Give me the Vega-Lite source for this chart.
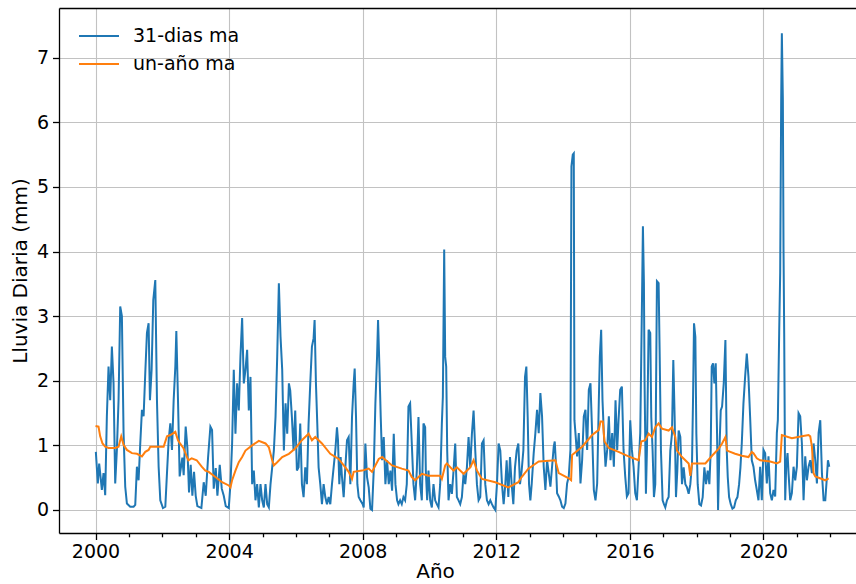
{
"$schema": "https://vega.github.io/schema/vega-lite/v6.json",
"width": 797, "height": 525,
"autosize": {"type": "none"},
"padding": {"left": 59, "top": 8, "right": 0, "bottom": 51},
"background": "white",
"config": {
  "font": "DejaVu Sans",
  "view": {"stroke": null},
  "axis": {"domainColor": "#000", "domainWidth": 1.3, "tickColor": "#000", "tickWidth": 1.3, "labelColor": "#000", "titleColor": "#000", "labelFontSize": 19, "titleFontSize": 20, "titleFontWeight": "normal", "gridColor": "#c2c2c2", "gridWidth": 1.1, "labelFont": "DejaVu Sans", "titleFont": "DejaVu Sans"},
  "legend": {"labelFont": "DejaVu Sans"}
},
"datasets": {
"ma31": [
{"t":2000.01,"v":0.90},{"t":2000.07,"v":0.41},{"t":2000.11,"v":0.72},{"t":2000.14,"v":0.57},{"t":2000.19,"v":0.31},{"t":2000.24,"v":0.57},{"t":2000.29,"v":0.23},{"t":2000.34,"v":1.45},{"t":2000.39,"v":2.22},{"t":2000.44,"v":1.70},{"t":2000.49,"v":2.53},{"t":2000.54,"v":1.96},{"t":2000.59,"v":0.41},{"t":2000.64,"v":0.93},{"t":2000.69,"v":1.70},{"t":2000.74,"v":3.15},{"t":2000.79,"v":3.00},{"t":2000.84,"v":1.19},{"t":2000.89,"v":0.36},{"t":2000.94,"v":0.10},{"t":2001.04,"v":0.05},{"t":2001.14,"v":0.05},{"t":2001.19,"v":0.08},{"t":2001.24,"v":0.67},{"t":2001.29,"v":0.46},{"t":2001.34,"v":1.03},{"t":2001.39,"v":1.55},{"t":2001.44,"v":1.45},{"t":2001.49,"v":2.12},{"t":2001.54,"v":2.74},{"t":2001.59,"v":2.89},{"t":2001.63,"v":1.70},{"t":2001.68,"v":2.17},{"t":2001.73,"v":3.25},{"t":2001.79,"v":3.56},{"t":2001.84,"v":1.70},{"t":2001.89,"v":0.67},{"t":2001.94,"v":0.15},{"t":2002.02,"v":0.03},{"t":2002.09,"v":0.05},{"t":2002.14,"v":0.57},{"t":2002.19,"v":1.08},{"t":2002.24,"v":1.34},{"t":2002.29,"v":0.93},{"t":2002.34,"v":1.70},{"t":2002.39,"v":2.22},{"t":2002.42,"v":2.77},{"t":2002.47,"v":1.70},{"t":2002.52,"v":0.52},{"t":2002.60,"v":0.81},{"t":2002.64,"v":0.54},{"t":2002.70,"v":1.29},{"t":2002.75,"v":0.97},{"t":2002.80,"v":0.27},{"t":2002.85,"v":0.70},{"t":2002.90,"v":0.22},{"t":2002.95,"v":0.59},{"t":2003.00,"v":0.22},{"t":2003.05,"v":0.06},{"t":2003.17,"v":0.03},{"t":2003.24,"v":0.43},{"t":2003.30,"v":0.22},{"t":2003.37,"v":0.81},{"t":2003.44,"v":1.29},{"t":2003.49,"v":1.24},{"t":2003.54,"v":0.33},{"t":2003.60,"v":0.65},{"t":2003.65,"v":0.22},{"t":2003.72,"v":0.70},{"t":2003.78,"v":0.33},{"t":2003.84,"v":0.22},{"t":2003.90,"v":0.06},{"t":2003.99,"v":0.03},
{"t":2004.04,"v":0.40},{"t":2004.09,"v":1.03},{"t":2004.14,"v":2.17},{"t":2004.19,"v":1.18},{"t":2004.24,"v":1.96},{"t":2004.29,"v":1.54},{"t":2004.34,"v":2.38},{"t":2004.39,"v":2.97},{"t":2004.44,"v":1.96},{"t":2004.49,"v":2.17},{"t":2004.54,"v":2.48},{"t":2004.59,"v":1.54},{"t":2004.64,"v":2.06},{"t":2004.69,"v":0.40},{"t":2004.74,"v":0.61},{"t":2004.79,"v":0.15},{"t":2004.84,"v":0.40},{"t":2004.89,"v":0.04},{"t":2004.94,"v":0.40},{"t":2004.99,"v":0.15},{"t":2005.04,"v":0.04},{"t":2005.09,"v":0.40},{"t":2005.14,"v":0.09},{"t":2005.19,"v":0.04},{"t":2005.24,"v":0.40},{"t":2005.29,"v":0.66},{"t":2005.34,"v":0.92},{"t":2005.39,"v":1.44},{"t":2005.44,"v":2.37},{"t":2005.49,"v":3.51},{"t":2005.54,"v":2.68},{"t":2005.59,"v":2.17},{"t":2005.64,"v":0.92},{"t":2005.69,"v":1.65},{"t":2005.74,"v":1.18},{"t":2005.79,"v":1.96},{"t":2005.83,"v":1.85},{"t":2005.88,"v":1.44},{"t":2005.93,"v":0.92},{"t":2005.98,"v":1.54},{"t":2006.03,"v":0.61},{"t":2006.08,"v":0.66},{"t":2006.13,"v":1.34},{"t":2006.18,"v":0.40},{"t":2006.23,"v":0.20},{"t":2006.28,"v":0.66},{"t":2006.33,"v":0.40},{"t":2006.38,"v":1.34},{"t":2006.43,"v":1.96},{"t":2006.48,"v":2.53},{"t":2006.53,"v":2.66},{"t":2006.56,"v":2.94},{"t":2006.60,"v":1.96},{"t":2006.64,"v":1.34},{"t":2006.68,"v":0.66},{"t":2006.73,"v":0.40},{"t":2006.78,"v":0.09},{"t":2006.83,"v":0.40},{"t":2006.88,"v":0.20},{"t":2006.93,"v":0.09},{"t":2006.98,"v":0.20},{"t":2007.03,"v":0.09},{"t":2007.08,"v":0.40},{"t":2007.13,"v":0.66},{"t":2007.18,"v":0.92},{"t":2007.23,"v":1.28},{"t":2007.26,"v":1.08},{"t":2007.30,"v":0.40},{"t":2007.34,"v":0.82},{"t":2007.38,"v":0.51},{"t":2007.43,"v":0.20},{"t":2007.48,"v":0.66},{"t":2007.53,"v":1.08},{"t":2007.58,"v":1.13},{"t":2007.63,"v":0.40},{"t":2007.68,"v":1.44},{"t":2007.73,"v":1.96},{"t":2007.76,"v":2.19},{"t":2007.80,"v":1.44},{"t":2007.84,"v":0.40},{"t":2007.88,"v":0.20},{"t":2007.93,"v":0.15},{"t":2008.00,"v":0.09},{"t":2008.03,"v":0.04},{"t":2008.08,"v":1.03},{"t":2008.13,"v":0.51},{"t":2008.18,"v":0.35},{"t":2008.23,"v":0.02},{"t":2008.28,"v":0.00},{"t":2008.33,"v":0.61},{"t":2008.38,"v":1.65},{"t":2008.43,"v":2.37},{"t":2008.46,"v":2.94},{"t":2008.50,"v":2.22},{"t":2008.54,"v":1.44},{"t":2008.58,"v":0.77},{"t":2008.63,"v":1.13},{"t":2008.68,"v":0.40},{"t":2008.73,"v":0.77},{"t":2008.78,"v":0.40},{"t":2008.83,"v":0.61},{"t":2008.88,"v":0.30},{"t":2008.93,"v":1.18},{"t":2008.98,"v":0.40},{"t":2009.03,"v":0.15},{"t":2009.07,"v":0.09},{"t":2009.12,"v":0.15},{"t":2009.17,"v":0.09},{"t":2009.22,"v":0.20},{"t":2009.27,"v":0.15},{"t":2009.32,"v":0.40},{"t":2009.37,"v":1.60},{"t":2009.42,"v":1.65},{"t":2009.47,"v":1.03},{"t":2009.52,"v":0.40},{"t":2009.57,"v":0.15},{"t":2009.62,"v":0.61},{"t":2009.67,"v":1.44},{"t":2009.72,"v":0.40},{"t":2009.77,"v":0.15},{"t":2009.82,"v":1.34},{"t":2009.87,"v":1.28},{"t":2009.89,"v":0.61},{"t":2009.93,"v":0.15},{"t":2009.97,"v":0.61},
{"t":2010.02,"v":0.15},{"t":2010.07,"v":0.04},{"t":2010.12,"v":0.40},{"t":2010.17,"v":0.15},{"t":2010.22,"v":0.09},{"t":2010.27,"v":0.04},{"t":2010.32,"v":0.40},{"t":2010.37,"v":1.34},{"t":2010.40,"v":1.75},{"t":2010.44,"v":4.03},{"t":2010.47,"v":2.37},{"t":2010.50,"v":2.22},{"t":2010.53,"v":0.92},{"t":2010.57,"v":0.15},{"t":2010.62,"v":0.40},{"t":2010.67,"v":0.25},{"t":2010.72,"v":0.61},{"t":2010.77,"v":1.03},{"t":2010.82,"v":0.20},{"t":2010.87,"v":0.15},{"t":2010.92,"v":0.09},{"t":2010.97,"v":0.20},{"t":2011.02,"v":0.56},{"t":2011.07,"v":0.40},{"t":2011.12,"v":0.66},{"t":2011.17,"v":1.13},{"t":2011.22,"v":0.66},{"t":2011.27,"v":1.18},{"t":2011.32,"v":1.54},{"t":2011.37,"v":0.92},{"t":2011.42,"v":0.40},{"t":2011.47,"v":0.15},{"t":2011.52,"v":0.20},{"t":2011.57,"v":1.03},{"t":2011.62,"v":1.08},{"t":2011.67,"v":0.40},{"t":2011.72,"v":0.15},{"t":2011.77,"v":0.09},{"t":2011.82,"v":0.15},{"t":2011.87,"v":0.09},{"t":2011.92,"v":0.04},{"t":2011.97,"v":0.00},{"t":2012.02,"v":0.40},{"t":2012.07,"v":1.03},{"t":2012.12,"v":0.92},{"t":2012.17,"v":0.40},{"t":2012.22,"v":0.09},{"t":2012.27,"v":0.40},{"t":2012.31,"v":0.77},{"t":2012.36,"v":0.20},{"t":2012.41,"v":0.82},{"t":2012.46,"v":0.40},{"t":2012.51,"v":0.09},{"t":2012.56,"v":0.66},{"t":2012.61,"v":0.92},{"t":2012.66,"v":1.03},{"t":2012.71,"v":0.40},{"t":2012.76,"v":0.61},{"t":2012.81,"v":0.92},{"t":2012.86,"v":2.06},{"t":2012.90,"v":2.22},{"t":2012.94,"v":1.44},{"t":2012.98,"v":0.40},{"t":2013.02,"v":0.15},{"t":2013.06,"v":0.40},{"t":2013.12,"v":0.88},{"t":2013.17,"v":1.19},{"t":2013.22,"v":1.55},{"t":2013.27,"v":1.19},{"t":2013.32,"v":1.81},{"t":2013.37,"v":1.45},{"t":2013.42,"v":0.67},{"t":2013.47,"v":0.31},{"t":2013.52,"v":0.77},{"t":2013.57,"v":0.57},{"t":2013.62,"v":0.36},{"t":2013.67,"v":0.67},{"t":2013.72,"v":0.98},{"t":2013.75,"v":1.06},{"t":2013.79,"v":0.67},{"t":2013.82,"v":0.26},{"t":2013.87,"v":0.21},{"t":2013.92,"v":0.15},{"t":2013.97,"v":0.05},{"t":2014.02,"v":0.03},{"t":2014.07,"v":0.10},{"t":2014.12,"v":0.41},{"t":2014.17,"v":0.52},{"t":2014.22,"v":0.93},{"t":2014.25,"v":5.32},{"t":2014.29,"v":5.50},{"t":2014.32,"v":5.52},{"t":2014.34,"v":1.39},{"t":2014.37,"v":1.19},{"t":2014.42,"v":0.83},{"t":2014.47,"v":1.19},{"t":2014.52,"v":0.41},{"t":2014.57,"v":0.77},{"t":2014.62,"v":1.45},{"t":2014.67,"v":1.55},{"t":2014.72,"v":0.93},{"t":2014.77,"v":1.86},{"t":2014.82,"v":1.96},{"t":2014.87,"v":1.19},{"t":2014.92,"v":0.31},{"t":2014.97,"v":0.15},{"t":2015.02,"v":0.41},{"t":2015.07,"v":1.70},{"t":2015.10,"v":2.37},{"t":2015.14,"v":2.79},{"t":2015.18,"v":1.70},{"t":2015.22,"v":1.19},{"t":2015.27,"v":0.67},{"t":2015.32,"v":0.93},{"t":2015.37,"v":1.45},{"t":2015.42,"v":0.77},{"t":2015.47,"v":1.19},{"t":2015.52,"v":0.67},{"t":2015.57,"v":1.70},{"t":2015.62,"v":0.93},{"t":2015.66,"v":1.39},{"t":2015.71,"v":1.86},{"t":2015.76,"v":1.91},{"t":2015.81,"v":0.93},{"t":2015.86,"v":0.52},{"t":2015.91,"v":0.21},{"t":2015.96,"v":0.26},{"t":2016.01,"v":1.39},{"t":2016.06,"v":0.93},{"t":2016.11,"v":0.67},{"t":2016.16,"v":0.26},{"t":2016.21,"v":0.15},{"t":2016.26,"v":0.67},{"t":2016.31,"v":1.19},{"t":2016.36,"v":3.15},{"t":2016.39,"v":4.39},{"t":2016.42,"v":3.51},{"t":2016.44,"v":1.96},{"t":2016.48,"v":0.25},{"t":2016.51,"v":0.92},{"t":2016.56,"v":2.79},{"t":2016.61,"v":2.74},{"t":2016.64,"v":1.44},{"t":2016.68,"v":0.92},{"t":2016.72,"v":0.20},{"t":2016.76,"v":0.40},{"t":2016.81,"v":3.54},{"t":2016.86,"v":3.51},{"t":2016.89,"v":2.48},{"t":2016.93,"v":0.92},{"t":2016.98,"v":0.15},{"t":2017.02,"v":0.09},{"t":2017.06,"v":0.04},{"t":2017.11,"v":0.15},{"t":2017.16,"v":0.20},{"t":2017.21,"v":0.92},{"t":2017.26,"v":1.18},{"t":2017.30,"v":2.32},{"t":2017.34,"v":1.44},{"t":2017.38,"v":0.20},{"t":2017.42,"v":0.61},{"t":2017.46,"v":1.23},{"t":2017.51,"v":1.13},{"t":2017.56,"v":0.40},{"t":2017.61,"v":0.66},{"t":2017.66,"v":0.40},{"t":2017.71,"v":0.35},{"t":2017.76,"v":0.25},{"t":2017.81,"v":0.40},{"t":2017.86,"v":0.72},{"t":2017.89,"v":1.70},{"t":2017.92,"v":2.89},{"t":2017.96,"v":2.68},{"t":2017.99,"v":1.18},{"t":2018.03,"v":0.40},{"t":2018.08,"v":0.09},{"t":2018.13,"v":0.07},{"t":2018.18,"v":0.20},{"t":2018.23,"v":0.66},{"t":2018.28,"v":0.40},{"t":2018.33,"v":0.61},{"t":2018.38,"v":0.40},{"t":2018.42,"v":0.92},{"t":2018.45,"v":2.22},{"t":2018.49,"v":2.27},{"t":2018.53,"v":1.96},{"t":2018.57,"v":2.27},{"t":2018.61,"v":1.18},{"t":2018.64,"v":0.00},{"t":2018.68,"v":0.92},{"t":2018.72,"v":1.54},{"t":2018.76,"v":1.60},{"t":2018.81,"v":1.96},{"t":2018.86,"v":2.63},{"t":2018.90,"v":0.92},{"t":2018.93,"v":0.51},{"t":2018.97,"v":0.20},{"t":2019.02,"v":0.09},{"t":2019.07,"v":0.02},{"t":2019.12,"v":0.04},{"t":2019.17,"v":0.15},{"t":2019.22,"v":0.20},{"t":2019.27,"v":0.40},{"t":2019.31,"v":0.66},{"t":2019.35,"v":1.03},{"t":2019.40,"v":1.65},{"t":2019.45,"v":2.06},{"t":2019.50,"v":2.42},{"t":2019.55,"v":2.06},{"t":2019.60,"v":1.44},{"t":2019.65,"v":0.77},{"t":2019.70,"v":0.67},{"t":2019.75,"v":0.46},{"t":2019.80,"v":0.31},{"t":2019.85,"v":0.15},{"t":2019.90,"v":0.67},{"t":2019.95,"v":0.15},{"t":2020.00,"v":0.93},{"t":2020.05,"v":0.88},{"t":2020.10,"v":0.41},{"t":2020.15,"v":0.83},{"t":2020.20,"v":0.26},{"t":2020.25,"v":0.15},{"t":2020.30,"v":0.31},{"t":2020.35,"v":0.21},{"t":2020.40,"v":1.19},{"t":2020.43,"v":1.39},{"t":2020.47,"v":2.74},{"t":2020.50,"v":3.67},{"t":2020.53,"v":6.35},{"t":2020.55,"v":7.38},{"t":2020.58,"v":6.35},{"t":2020.60,"v":4.03},{"t":2020.62,"v":2.74},{"t":2020.65,"v":0.15},{"t":2020.68,"v":0.67},{"t":2020.72,"v":0.88},{"t":2020.75,"v":0.57},{"t":2020.80,"v":0.15},{"t":2020.85,"v":0.26},{"t":2020.90,"v":0.67},{"t":2020.95,"v":0.46},{"t":2021.00,"v":0.67},{"t":2021.05,"v":1.50},{"t":2021.10,"v":1.45},{"t":2021.15,"v":1.03},{"t":2021.20,"v":0.15},{"t":2021.25,"v":0.83},{"t":2021.30,"v":0.46},{"t":2021.35,"v":0.67},{"t":2021.40,"v":0.77},{"t":2021.45,"v":0.57},{"t":2021.50,"v":1.03},{"t":2021.55,"v":0.77},{"t":2021.60,"v":0.41},{"t":2021.65,"v":1.19},{"t":2021.70,"v":1.39},{"t":2021.75,"v":0.57},{"t":2021.80,"v":0.15},{"t":2021.85,"v":0.15},{"t":2021.90,"v":0.52},{"t":2021.93,"v":0.77},{"t":2021.97,"v":0.67}
],
"ma365": [
{"t":2000.00,"v":1.30},{"t":2000.09,"v":1.29},{"t":2000.14,"v":1.14},{"t":2000.21,"v":1.03},{"t":2000.29,"v":0.98},{"t":2000.39,"v":0.96},{"t":2000.49,"v":0.96},{"t":2000.59,"v":0.96},{"t":2000.69,"v":0.98},{"t":2000.77,"v":1.14},{"t":2000.84,"v":1.01},{"t":2000.94,"v":0.93},{"t":2001.09,"v":0.88},{"t":2001.24,"v":0.87},{"t":2001.39,"v":0.83},{"t":2001.49,"v":0.90},{"t":2001.59,"v":0.93},{"t":2001.64,"v":0.98},{"t":2001.89,"v":0.98},{"t":2002.04,"v":0.98},{"t":2002.14,"v":1.14},{"t":2002.24,"v":1.16},{"t":2002.39,"v":1.21},{"t":2002.47,"v":1.08},{"t":2002.53,"v":1.03},{"t":2002.63,"v":0.96},{"t":2002.73,"v":0.83},{"t":2002.78,"v":0.77},{"t":2002.88,"v":0.80},{"t":2003.03,"v":0.77},{"t":2003.18,"v":0.67},{"t":2003.29,"v":0.61},{"t":2003.39,"v":0.59},{"t":2003.59,"v":0.51},{"t":2003.79,"v":0.43},{"t":2003.99,"v":0.38},{"t":2004.04,"v":0.35},{"t":2004.09,"v":0.46},{"t":2004.19,"v":0.61},{"t":2004.29,"v":0.74},{"t":2004.39,"v":0.82},{"t":2004.49,"v":0.92},{"t":2004.69,"v":1.00},{"t":2004.89,"v":1.07},{"t":2005.09,"v":1.03},{"t":2005.19,"v":0.97},{"t":2005.29,"v":0.77},{"t":2005.34,"v":0.69},{"t":2005.44,"v":0.74},{"t":2005.59,"v":0.82},{"t":2005.79,"v":0.87},{"t":2005.98,"v":0.95},{"t":2006.18,"v":1.08},{"t":2006.38,"v":1.18},{"t":2006.48,"v":1.08},{"t":2006.58,"v":1.13},{"t":2006.78,"v":1.03},{"t":2007.03,"v":0.87},{"t":2007.28,"v":0.79},{"t":2007.48,"v":0.66},{"t":2007.58,"v":0.59},{"t":2007.68,"v":0.48},{"t":2007.73,"v":0.59},{"t":2007.98,"v":0.61},{"t":2008.18,"v":0.64},{"t":2008.28,"v":0.59},{"t":2008.48,"v":0.79},{"t":2008.58,"v":0.82},{"t":2008.88,"v":0.69},{"t":2009.17,"v":0.64},{"t":2009.37,"v":0.61},{"t":2009.47,"v":0.51},{"t":2009.57,"v":0.46},{"t":2009.77,"v":0.56},{"t":2009.97,"v":0.53},{"t":2010.32,"v":0.53},{"t":2010.37,"v":0.48},{"t":2010.47,"v":0.69},{"t":2010.52,"v":0.72},{"t":2010.72,"v":0.61},{"t":2010.82,"v":0.66},{"t":2011.02,"v":0.56},{"t":2011.22,"v":0.66},{"t":2011.32,"v":0.77},{"t":2011.42,"v":0.61},{"t":2011.57,"v":0.48},{"t":2011.97,"v":0.43},{"t":2012.36,"v":0.35},{"t":2012.66,"v":0.43},{"t":2012.76,"v":0.51},{"t":2012.96,"v":0.64},{"t":2013.27,"v":0.75},{"t":2013.77,"v":0.77},{"t":2013.87,"v":0.57},{"t":2014.17,"v":0.49},{"t":2014.24,"v":0.46},{"t":2014.27,"v":0.85},{"t":2014.57,"v":0.98},{"t":2014.87,"v":1.16},{"t":2015.07,"v":1.24},{"t":2015.12,"v":1.37},{"t":2015.19,"v":1.37},{"t":2015.24,"v":1.06},{"t":2015.37,"v":0.96},{"t":2015.66,"v":0.90},{"t":2015.96,"v":0.83},{"t":2016.26,"v":0.77},{"t":2016.34,"v":1.06},{"t":2016.46,"v":1.08},{"t":2016.56,"v":1.18},{"t":2016.66,"v":1.13},{"t":2016.76,"v":1.28},{"t":2016.86,"v":1.34},{"t":2016.96,"v":1.26},{"t":2017.16,"v":1.23},{"t":2017.26,"v":1.28},{"t":2017.36,"v":1.13},{"t":2017.41,"v":0.92},{"t":2017.56,"v":0.82},{"t":2017.76,"v":0.72},{"t":2017.81,"v":0.53},{"t":2017.86,"v":0.72},{"t":2018.26,"v":0.72},{"t":2018.46,"v":0.84},{"t":2018.66,"v":0.95},{"t":2018.76,"v":1.03},{"t":2018.86,"v":1.13},{"t":2018.91,"v":0.92},{"t":2019.15,"v":0.87},{"t":2019.35,"v":0.84},{"t":2019.55,"v":0.82},{"t":2019.65,"v":0.90},{"t":2019.70,"v":0.88},{"t":2019.80,"v":0.80},{"t":2019.90,"v":0.77},{"t":2020.20,"v":0.75},{"t":2020.40,"v":0.72},{"t":2020.50,"v":0.75},{"t":2020.55,"v":1.16},{"t":2020.85,"v":1.11},{"t":2021.15,"v":1.14},{"t":2021.35,"v":1.16},{"t":2021.40,"v":1.14},{"t":2021.45,"v":0.98},{"t":2021.50,"v":0.57},{"t":2021.55,"v":0.52},{"t":2021.85,"v":0.46},{"t":2021.95,"v":0.49}
]
},
"encoding": {
  "y": {"field": "v", "type": "quantitative",
    "scale": {"domain": [-0.356, 7.77], "nice": false, "zero": false},
    "axis": {"values": [0,1,2,3,4,5,6,7], "title": "Lluvia Diaria (mm)", "tickSize": 6.5, "labelPadding": 4, "titlePadding": 6, "grid": true, "gridColor": "#c2c2c2"}}
},
"layer": [
  {"data": {"name": "ma31"},
   "mark": {"type": "line", "strokeWidth": 2, "clip": true},
   "encoding": {
     "x": {"field": "t", "type": "quantitative",
       "scale": {"domain": [1998.907, 2022.77], "nice": false, "zero": false},
       "axis": {"values": [2000,2001,2002,2003,2004,2005,2006,2007,2008,2009,2010,2011,2012,2013,2014,2015,2016,2017,2018,2019,2020,2021,2022],
         "format": "d", "labelExpr": "datum.value % 4 === 0 ? datum.label : ''",
         "tickSize": {"condition": {"test": "datum.value % 4 === 0", "value": 6.5}, "value": 3.8},
         "gridOpacity": {"condition": {"test": "datum.value % 4 === 0", "value": 1}, "value": 0},
         "gridColor": "#c2c2c2",
         "title": "Año", "titleX": 376, "titleFontSize": 20, "labelPadding": 3, "titlePadding": 0, "grid": true, "labelFlush": false, "labelOverlap": false}},
     "color": {"datum": "31-dias ma", "type": "nominal",
       "scale": {"domain": ["31-dias ma", "un-año ma"], "range": ["#1f77b4", "#ff7f0e"]},
       "legend": {"title": null, "orient": "none", "legendX": 19, "legendY": 17, "padding": 0,
         "symbolType": "M-2,0H2", "symbolSize": 400, "symbolStrokeWidth": 2, "symbolOffset": 10,
         "labelFontSize": 19, "labelOffset": 23, "rowPadding": 7, "labelLimit": 300, "labelColor": "#000"}}
   }},
  {"data": {"name": "ma365"},
   "mark": {"type": "line", "strokeWidth": 2, "clip": true},
   "encoding": {
     "x": {"field": "t", "type": "quantitative",
       "axis": {"orient": "top", "labels": false, "ticks": false, "grid": false, "title": null, "domain": true}},
     "color": {"datum": "un-año ma", "type": "nominal"}
   }}
],
"resolve": {"axis": {"x": "independent"}}
}
